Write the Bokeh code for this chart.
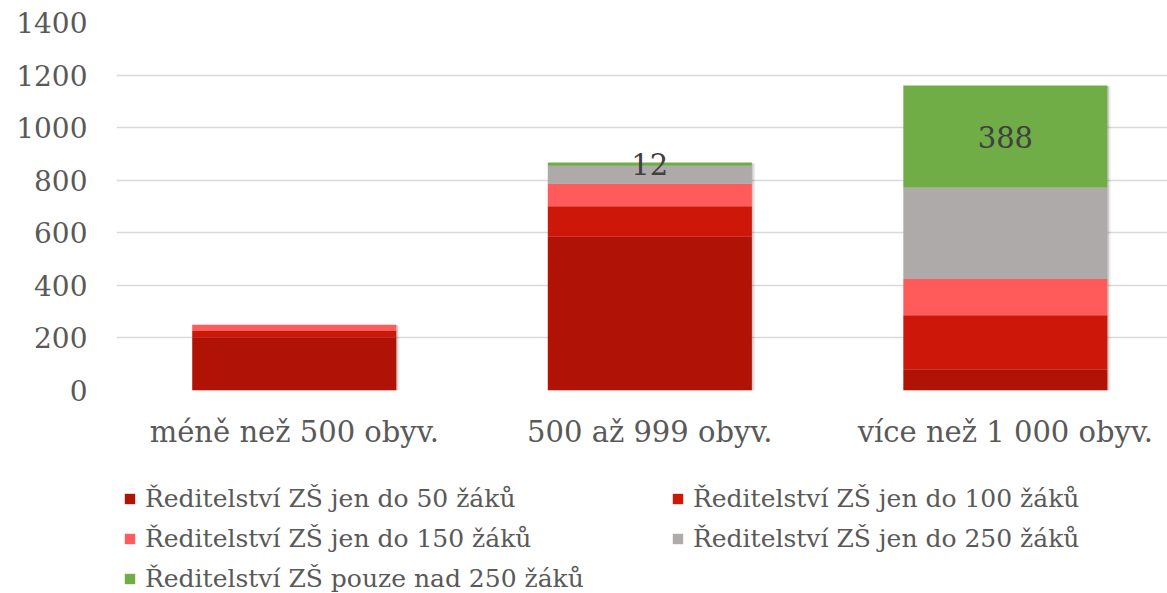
from bokeh.plotting import figure
from bokeh.layouts import column
from bokeh.models import Range1d, FixedTicker, Legend, LegendItem, ColumnDataSource
from bokeh.core.properties import value
from bokeh.embed import file_html
from bokeh.resources import INLINE

categories = ["méně než 500 obyv.", "500 až 999 obyv.", "více než 1 000 obyv."]
series = ["Ředitelství ZŠ jen do 50 žáků", "Ředitelství ZŠ jen do 100 žáků",
          "Ředitelství ZŠ jen do 150 žáků", "Ředitelství ZŠ jen do 250 žáků",
          "Ředitelství ZŠ pouze nad 250 žáků"]
do50 = [203, 585, 79]
do100 = [25, 116, 207]
do150 = [22, 86, 138]
do250 = [0, 68, 348]
nad250 = [0, 12, 388]
colors = ["#B01306", "#CC1709", "#FF5B5B", "#AEAAA9", "#70AD47"]
y_ticks = [0, 200, 400, 600, 800, 1000, 1200, 1400]

FONT = "DejaVu Serif"
TXT = "#595959"
xs = list(range(len(categories)))
keys = ["s0", "s1", "s2", "s3", "s4"]
src = ColumnDataSource({"x": xs, "s0": do50, "s1": do100, "s2": do150, "s3": do250, "s4": nad250})

p = figure(width=1167, height=460, output_backend="svg", toolbar_location=None,
           x_range=Range1d(-0.5, 2.456), y_range=Range1d(0, 1400),
           min_border_left=116, min_border_right=0, min_border_top=22, min_border_bottom=70)
p.outline_line_color = None

BW = 0.574
totals = [sum(v) for v in zip(do50, do100, do150, do250, nad250)]
# soft shadow under the bars
p.vbar(x=[x + 0.006 for x in xs], top=[t - 3 for t in totals], bottom=-10, width=BW + 0.006,
       fill_color="#000000", fill_alpha=0.08, line_color=None)
p.vbar(x=[x + 0.003 for x in xs], top=[t - 2 for t in totals], bottom=-6, width=BW + 0.003,
       fill_color="#000000", fill_alpha=0.12, line_color=None)

p.vbar_stack(keys, x="x", width=BW, color=colors, source=src, line_color=None)

lab_x, lab_y, lab_t = [], [], []
for i in xs:
    base = do50[i] + do100[i] + do150[i] + do250[i]
    if nad250[i] > 0:
        lab_x.append(i)
        lab_y.append(base + nad250[i] / 2)
        lab_t.append(str(nad250[i]))
p.text(x=lab_x, y=lab_y, text=lab_t, text_align="center", text_baseline="middle",
       text_font=value(FONT), text_font_size="29px", text_color="#404040")

p.xgrid.grid_line_color = None
p.ygrid.grid_line_color = "#D9D9D9"
p.ygrid.grid_line_width = 1.6
p.ygrid.ticker = FixedTicker(ticks=y_ticks)

ya = p.yaxis[0]
ya.ticker = FixedTicker(ticks=y_ticks)
ya.axis_line_color = None
ya.major_tick_line_color = None
ya.minor_tick_line_color = None
ya.major_label_standoff = 23
ya.major_label_text_font = FONT
ya.major_label_text_font_size = "28px"
ya.major_label_text_color = TXT

xa = p.xaxis[0]
xa.ticker = FixedTicker(ticks=xs)
xa.major_label_overrides = {i: c for i, c in enumerate(categories)}
xa.axis_line_color = None
xa.major_tick_line_color = None
xa.minor_tick_line_color = None
xa.major_label_standoff = 18
xa.major_label_text_font = FONT
xa.major_label_text_font_size = "29px"
xa.major_label_text_color = TXT

# legend panel (frames of the column are aligned, so its frame starts at x=116)
lg = figure(width=1167, height=133, output_backend="svg", toolbar_location=None,
            x_range=Range1d(0, 1), y_range=Range1d(0, 1),
            min_border_left=0, min_border_right=0, min_border_top=0, min_border_bottom=0)
lg.outline_line_color = None
lg.axis.visible = False
lg.grid.visible = False
items = []
for k in range(5):
    r = lg.vbar(x=[5], top=[5], bottom=[4], width=0.1, fill_color=colors[k], line_color=None)
    items.append(LegendItem(label=series[k], renderers=[r]))
legend = Legend(items=items, ncols=2, orientation="horizontal", location=(7, 0),
                label_text_font=FONT, label_text_font_size="25px", label_text_color=TXT,
                glyph_width=13, glyph_height=13, label_standoff=9, label_width=515,
                label_height=29, spacing=11, padding=0, margin=0,
                border_line_color=None, background_fill_alpha=0)
lg.add_layout(legend, "center")

layout = column(p, lg, spacing=0)
open("out.html", "w").write(file_html(layout, INLINE))
